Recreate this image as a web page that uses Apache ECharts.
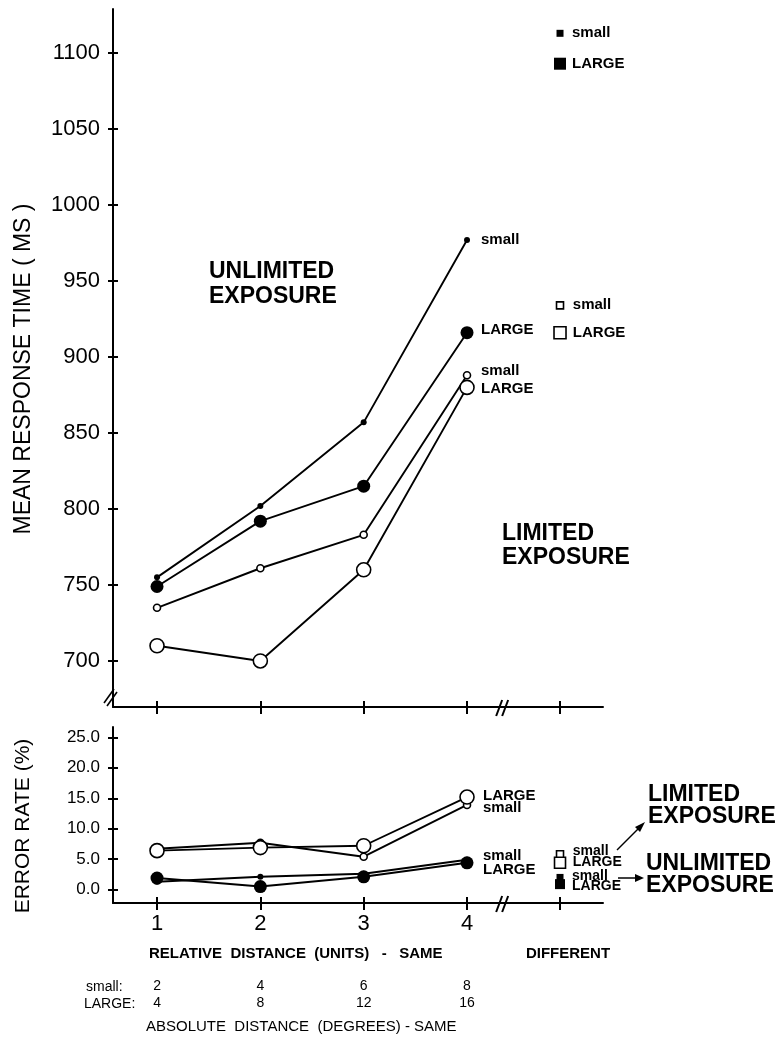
<!DOCTYPE html>
<html><head><meta charset="utf-8">
<script src="https://cdn.jsdelivr.net/npm/echarts@6/dist/echarts.min.js"></script>
<style>html,body{margin:0;padding:0;background:#fff;}#c{width:781px;height:1043px;}</style>
</head><body><div id="c"></div>
<script>
// ---- data ----
const relDist = [1, 2, 3, 4];
const relTickLabels = ['1', '2', '3', '4'];
const absSmall = ['2', '4', '6', '8'];
const absLarge = ['4', '8', '12', '16'];
const diffX = 4.9;                 // "DIFFERENT" position on the x scale
const breakX = 4.34;               // axis break between SAME and DIFFERENT
const rtTicks = [700, 750, 800, 850, 900, 950, 1000, 1050, 1100];
const errTicks = [0, 5, 10, 15, 20, 25];

const rtUnlimSmall = [755, 802, 857, 977];
const rtUnlimLarge = [749, 792, 815, 916];
const rtLimSmall = [735, 761, 783, 888];
const rtLimLarge = [710, 700, 760, 880];
const rtDiffUnlim = [1113, 1093];   // small, LARGE
const rtDiffLim = [934, 916];       // small, LARGE

const errUnlimSmall = [1.3, 2.1, 2.6, 4.9];
const errUnlimLarge = [1.9, 0.5, 2.1, 4.4];
const errLimSmall = [6.7, 7.7, 5.4, 13.9];
const errLimLarge = [6.4, 6.9, 7.2, 15.2];
const errDiffLim = [5.8, 4.4];      // small, LARGE
const errDiffUnlim = [2.0, 0.9];    // small, LARGE

// ---- chart ----
const F = '"Liberation Sans", Arial, Helvetica, sans-serif';
const K = '#000';
const xMin = 0.574, xMax = 5.316;
const chart = echarts.init(document.getElementById('c'));

function xAx(grid, inside, extra) {
  return Object.assign({
    gridIndex: grid, type: 'value', position: 'bottom', min: xMin, max: xMax,
    splitLine: { show: false },
    axisLine: { show: !inside, onZero: false, lineStyle: { color: K, width: 2 } },
    axisTick: { show: true, inside: inside, customValues: relDist.concat([diffX]), length: inside ? 6 : 7, lineStyle: { color: K, width: 2 } },
    axisLabel: { show: false }
  }, extra || {});
}
function rowAx(labels, margin) {
  return {
    gridIndex: 1, type: 'value', position: 'bottom', min: xMin, max: xMax,
    splitLine: { show: false }, axisLine: { show: false, onZero: false }, axisTick: { show: false },
    axisLabel: { show: true, customValues: relDist, formatter: v => labels[relDist.indexOf(v)], margin: margin, fontSize: 14, fontFamily: F, color: K }
  };
}
function yAx(grid, inside, min, max, ticks, extra) {
  return Object.assign({
    gridIndex: grid, type: 'value', position: 'left', min: min, max: max,
    splitLine: { show: false },
    axisLine: { show: !inside, onZero: false, lineStyle: { color: K, width: 2 } },
    axisTick: { show: true, inside: inside, customValues: ticks, length: 5, lineStyle: { color: K, width: 2 } },
    axisLabel: { show: false }
  }, extra || {});
}
function lineS(panel, vals, size, filled, lab, dist, dy) {
  return {
    type: 'line', xAxisIndex: panel ? 2 : 0, yAxisIndex: panel ? 2 : 0,
    data: relDist.map((x, i) => [x, vals[i]]),
    symbol: 'circle', symbolSize: size,
    itemStyle: { color: filled ? K : '#fff', borderColor: K, borderWidth: filled ? 0 : 1.6, opacity: 1 },
    lineStyle: { color: K, width: 1.9 },
    endLabel: { show: true, formatter: lab, distance: dist, offset: [0, dy], fontSize: 15, fontWeight: 'bold', fontFamily: F, color: K },
    z: filled ? 3 : 4, animation: false
  };
}
function sq(panel, vals, filled, sizes, dys, fs) {
  const names = ['small', 'LARGE'];
  return {
    type: 'scatter', xAxisIndex: panel ? 2 : 0, yAxisIndex: panel ? 2 : 0, symbol: 'rect', animation: false,
    itemStyle: { color: filled ? K : '#fff', borderColor: K, borderWidth: filled ? 0 : 1.6, opacity: 1 },
    data: vals.map((v, i) => ({
      value: [diffX, v], symbolSize: sizes[i],
      label: { show: true, position: 'right', formatter: names[i], distance: 12 - sizes[i] / 2, offset: [0, dys[i]], fontSize: fs, fontWeight: 'bold', fontFamily: F, color: K, opacity: 1, lineHeight: 12 }
    }))
  };
}

const option = {
  backgroundColor: '#fff',
  animation: false,
  grid: [
    { left: 113, top: 9, width: 490, height: 698 },
    { left: 113, top: 727, width: 490, height: 176 }
  ],
  xAxis: [
    xAx(0, false), xAx(0, true),
    xAx(1, false, { axisLabel: { show: true, customValues: relDist, formatter: v => relTickLabels[relDist.indexOf(v)], margin: 10, fontSize: 22, fontFamily: F, color: K } }),
    xAx(1, true),
    rowAx(absSmall, 76), rowAx(absLarge, 93)
  ],
  yAxis: [
    yAx(0, false, 669.7, 1129, rtTicks, {
      axisLabel: { show: true, customValues: rtTicks, formatter: v => String(v), margin: 13, fontSize: 22, fontFamily: F, color: K },
      name: 'MEAN RESPONSE TIME ( MS )', nameLocation: 'middle', nameGap: 78,
      nameTextStyle: { fontSize: 23, fontFamily: F, color: K, padding: [0, 22, 0, 0] }
    }),
    yAx(0, true, 669.7, 1129, rtTicks),
    yAx(1, false, -2.2, 26.7, errTicks, {
      axisLabel: { show: true, customValues: errTicks, formatter: v => v.toFixed(1), margin: 13, fontSize: 17, fontFamily: F, color: K },
      name: 'ERROR RATE (%)', nameLocation: 'middle', nameGap: 79,
      nameTextStyle: { fontSize: 21, fontFamily: F, color: K, padding: [0, 22, 0, 0] }
    }),
    yAx(1, true, -2.2, 26.7, errTicks)
  ],
  series: [
    lineS(0, rtUnlimSmall, 6, true, 'small', 14, 0),
    lineS(0, rtUnlimLarge, 13, true, 'LARGE', 14, -3),
    lineS(0, rtLimSmall, 7, false, 'small', 14, -4),
    lineS(0, rtLimLarge, 14, false, 'LARGE', 14, 1),
    lineS(1, errUnlimSmall, 6, true, 'small', 16, -4),
    lineS(1, errUnlimLarge, 13, true, 'LARGE', 16, 7),
    lineS(1, errLimSmall, 7, false, 'small', 16, 3),
    lineS(1, errLimLarge, 14, false, 'LARGE', 16, -1),
    sq(0, rtDiffUnlim, true, [7, 12], [0, 0], 15),
    sq(0, rtDiffLim, false, [7, 12], [0, 0], 15),
    sq(1, errDiffLim, false, [7, 11], [-3, -1], 14),
    sq(1, errDiffUnlim, true, [7, 10], [-1, 2], 14)
  ]
};
chart.setOption(option);

// ---- decorations (breaks, annotations) ----
const bxTop = chart.convertToPixel({ xAxisIndex: 0 }, breakX);
const yTopAxis = chart.convertToPixel({ yAxisIndex: 0 }, 669.7);
const yBotAxis = chart.convertToPixel({ yAxisIndex: 2 }, -2.2);
const yAxisX = chart.convertToPixel({ xAxisIndex: 0 }, xMin);
function brk(cx, cy) {
  return [
    { type: 'line', shape: { x1: cx - 6, y1: cy + 9, x2: cx, y2: cy - 7 }, style: { stroke: K, lineWidth: 2 }, z: 100 },
    { type: 'line', shape: { x1: cx, y1: cy + 9, x2: cx + 6, y2: cy - 7 }, style: { stroke: K, lineWidth: 2 }, z: 100 }
  ];
}
function txt(text, x, y, size, bold, extra) {
  return Object.assign({ type: 'text', x: x, y: y, z: 100,
    style: Object.assign({ text: text, font: (bold ? 'bold ' : '') + size + 'px ' + F, fill: K, textVerticalAlign: 'middle' }, extra || {}) });
}
const g = [];
g.push(...brk(bxTop, yTopAxis), ...brk(bxTop, yBotAxis));
g.push({ type: 'line', shape: { x1: yAxisX - 9, y1: yTopAxis - 4, x2: yAxisX + 1, y2: yTopAxis - 18 }, style: { stroke: K, lineWidth: 1.6 }, z: 100 });
g.push({ type: 'line', shape: { x1: yAxisX - 6, y1: yTopAxis - 1, x2: yAxisX + 4, y2: yTopAxis - 15 }, style: { stroke: K, lineWidth: 1.6 }, z: 100 });
// annotations
g.push(txt('UNLIMITED\nEXPOSURE', 209, 284, 23, true, { lineHeight: 25 }));
g.push(txt('LIMITED\nEXPOSURE', 502, 546, 23, true, { lineHeight: 24 }));
g.push(txt('LIMITED\nEXPOSURE', 648, 806, 23, true, { lineHeight: 22 }));
g.push(txt('UNLIMITED\nEXPOSURE', 646, 875, 23, true, { lineHeight: 22 }));
// arrows
g.push({ type: 'line', shape: { x1: 617, y1: 850, x2: 641, y2: 826 }, style: { stroke: K, lineWidth: 1.5 }, z: 100 });
g.push({ type: 'polygon', shape: { points: [[645, 822], [635, 827], [640, 832]] }, style: { fill: K }, z: 100 });
g.push({ type: 'line', shape: { x1: 618, y1: 878, x2: 636, y2: 878 }, style: { stroke: K, lineWidth: 1.5 }, z: 100 });
g.push({ type: 'polygon', shape: { points: [[644, 878], [635, 874], [635, 882]] }, style: { fill: K }, z: 100 });
// bottom captions
g.push(txt('RELATIVE  DISTANCE  (UNITS)   -   SAME', 149, 954, 15, true));
g.push(txt('DIFFERENT', chart.convertToPixel({ xAxisIndex: 0 }, diffX) + 8, 954, 15, true, { textAlign: 'center' }));
g.push(txt('small:', 86, 987, 14, false));
g.push(txt('LARGE:', 84, 1004, 14, false));
g.push(txt('ABSOLUTE  DISTANCE  (DEGREES) - SAME', 146, 1027, 15, false));
chart.setOption({ graphic: g });
</script>
</body></html>
